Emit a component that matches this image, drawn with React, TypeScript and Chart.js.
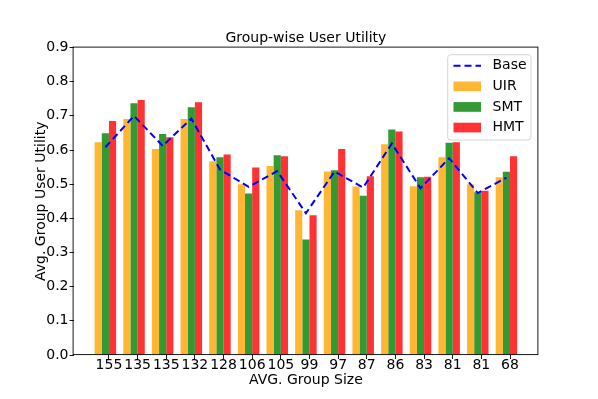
import { useEffect, useRef } from 'react';
import { Chart, registerables } from 'chart.js';

Chart.register(...registerables);

const groupSizes = ['155', '135', '135', '132', '128', '106', '105', '99', '97', '87', '86', '83', '81', '81', '68'];
const baseValues = [0.608, 0.700, 0.612, 0.692, 0.543, 0.492, 0.538, 0.415, 0.537, 0.490, 0.619, 0.488, 0.576, 0.474, 0.519];
const uirValues = [0.623, 0.691, 0.603, 0.691, 0.567, 0.500, 0.553, 0.424, 0.537, 0.493, 0.617, 0.494, 0.579, 0.500, 0.520];
const smtValues = [0.649, 0.737, 0.647, 0.725, 0.579, 0.473, 0.585, 0.338, 0.541, 0.466, 0.660, 0.520, 0.621, 0.476, 0.536];
const hmtValues = [0.685, 0.746, 0.637, 0.740, 0.587, 0.549, 0.582, 0.409, 0.603, 0.523, 0.654, 0.522, 0.623, 0.481, 0.582];
const yTickValues = [0, 0.1, 0.2, 0.3, 0.4, 0.5, 0.6, 0.7, 0.8, 0.9];

const FONT = 'DejaVu Sans';

const titleToAxesPlugin = {
  id: 'titleToAxes',
  afterLayout(chart: any) {
    const t = chart.titleBlock;
    if (t) {
      t.left = chart.chartArea.left;
      t.right = chart.chartArea.right;
      t.width = chart.chartArea.right - chart.chartArea.left;
    }
  },
};

const framePlugin = {
  id: 'frame',
  afterDatasetsDraw(chart: any) {
    const { ctx, chartArea } = chart;
    ctx.save();
    ctx.strokeStyle = '#000';
    ctx.lineWidth = 0.9;
    ctx.strokeRect(chartArea.left - 0.4, chartArea.top - 0.4, chartArea.right - chartArea.left, chartArea.bottom - chartArea.top);
    ctx.restore();
  },
};

const legendPlugin = {
  id: 'insideLegend',
  afterDraw(chart: any) {
    const { ctx, chartArea } = chart;
    const boxRight = chartArea.right - 7.3;
    const boxLeft = boxRight - 83.3;
    const boxTop = chartArea.top + 7.2;
    const boxBottom = boxTop + 85.3;
    ctx.save();
    ctx.beginPath();
    ctx.roundRect(boxLeft, boxTop, boxRight - boxLeft, boxBottom - boxTop, 3);
    ctx.fillStyle = 'rgba(255,255,255,0.8)';
    ctx.fill();
    ctx.strokeStyle = '#d6d6d6';
    ctx.lineWidth = 1;
    ctx.stroke();
    const handleLeft = boxLeft + 5.8;
    const handleRight = handleLeft + 27.5;
    const textX = boxLeft + 44.8;
    chart.data.datasets.forEach((ds: any, i: number) => {
      const cy = boxTop + 11 + i * 20.6;
      if (ds.type === 'line') {
        ctx.beginPath();
        ctx.setLineDash(ds.borderDash || []);
        ctx.strokeStyle = ds.borderColor;
        ctx.lineWidth = ds.borderWidth;
        ctx.moveTo(handleLeft, cy);
        ctx.lineTo(handleRight, cy);
        ctx.stroke();
        ctx.setLineDash([]);
      } else {
        ctx.fillStyle = ds.backgroundColor;
        ctx.fillRect(handleLeft, cy - 4.8, handleRight - handleLeft, 9.7);
      }
      ctx.fillStyle = '#000';
      ctx.font = `14px "${FONT}"`;
      ctx.textBaseline = 'middle';
      ctx.textAlign = 'left';
      ctx.fillText(ds.label, textX, cy);
    });
    ctx.restore();
  },
};

export default function App() {
  const canvasRef = useRef<HTMLCanvasElement | null>(null);

  useEffect(() => {
    document.body.style.margin = '0';
    const canvas = canvasRef.current;
    if (!canvas) return;
    Chart.defaults.font.family = FONT;
    Chart.defaults.font.size = 14;
    Chart.defaults.color = '#000';

    const toPoints = (vals: number[]) => vals.map((v, i) => ({ x: i, y: v }));

    const chart = new Chart(canvas, {
      type: 'bar',
      data: {
        datasets: [
          {
            type: 'line',
            label: 'Base',
            data: toPoints(baseValues),
            borderColor: '#0000ff',
            borderWidth: 2,
            borderDash: [7, 4],
            pointRadius: 0,
            fill: false,
            tension: 0,
            order: 0,
          } as any,
          {
            type: 'bar',
            label: 'UIR',
            data: toPoints(uirValues),
            backgroundColor: 'rgba(255,165,0,0.8)',
            borderWidth: 0,
            categoryPercentage: 0.75,
            barPercentage: 1,
            order: 1,
          },
          {
            type: 'bar',
            label: 'SMT',
            data: toPoints(smtValues),
            backgroundColor: 'rgba(0,128,0,0.8)',
            borderWidth: 0,
            categoryPercentage: 0.75,
            barPercentage: 1,
            order: 1,
          },
          {
            type: 'bar',
            label: 'HMT',
            data: toPoints(hmtValues),
            backgroundColor: 'rgba(255,0,0,0.8)',
            borderWidth: 0,
            categoryPercentage: 0.75,
            barPercentage: 1,
            order: 1,
          },
        ],
      },
      options: {
        responsive: false,
        animation: false,
        layout: { padding: { left: 0, right: 59.7, top: 0, bottom: 0 } },
        plugins: {
          legend: { display: false },
          tooltip: { enabled: false },
          title: {
            display: true,
            text: 'Group-wise User Utility',
            color: '#000',
            font: { size: 14, weight: 'normal', family: FONT },
            padding: { top: 29.5, bottom: 1.2 },
          },
        },
        scales: {
          x: {
            type: 'linear',
            min: -1.1125,
            max: 15.1125,
            offset: false,
            grid: { display: true, offset: false, drawOnChartArea: false, drawTicks: true, tickLength: 4, color: '#000', lineWidth: 0.9 },
            border: { display: false },
            ticks: {
              autoSkip: false,
              maxRotation: 0,
              minRotation: 0,
              padding: -2,
              color: '#000',
              font: { size: 14, family: FONT },
              callback: (value: any) => {
                const i = Math.round(Number(value) - 0.125);
                return groupSizes[i] ?? '';
              },
            },
            afterBuildTicks: (scale: any) => {
              scale.ticks = groupSizes.map((_, i) => ({ value: i + 0.125 }));
            },
            afterFit: (scale: any) => {
              scale.height = 44;
            },
            title: {
              display: true,
              text: 'AVG. Group Size',
              color: '#000',
              font: { size: 14, family: FONT },
              padding: { top: 0, bottom: 10 },
            },
          },
          y: {
            type: 'linear',
            min: 0,
            max: 0.9,
            grid: { display: true, drawOnChartArea: false, drawTicks: true, tickLength: 4, color: '#000', lineWidth: 0.9 },
            border: { display: false },
            ticks: {
              padding: 1,
              color: '#000',
              font: { size: 14, family: FONT },
              callback: (value: any) => Number(value).toFixed(1),
            },
            afterBuildTicks: (scale: any) => {
              scale.ticks = yTickValues.map((v) => ({ value: v }));
            },
            afterFit: (scale: any) => {
              scale.width = 73.5;
            },
            title: {
              display: true,
              text: 'Avg. Group User Utility',
              color: '#000',
              font: { size: 14, family: FONT },
              padding: { top: 33, bottom: 0 },
            },
          },
        },
      },
      plugins: [titleToAxesPlugin, framePlugin, legendPlugin],
    } as any);

    return () => {
      chart.destroy();
    };
  }, []);

  return (
    <div style={{ width: 598, height: 399 }}>
      <canvas ref={canvasRef} width={598} height={399} style={{ display: 'block', width: 598, height: 399 }} />
    </div>
  );
}
